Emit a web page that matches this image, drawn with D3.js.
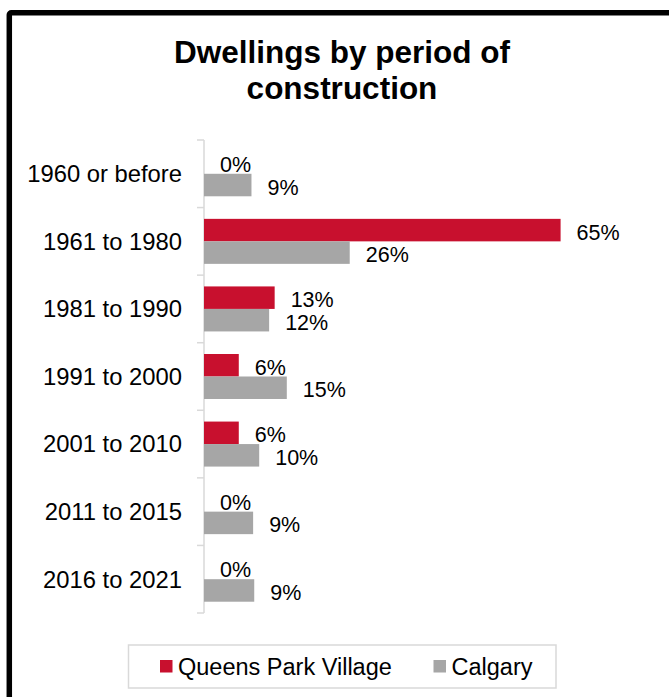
<!DOCTYPE html>
<html>
<head>
<meta charset="utf-8">
<script src="https://cdn.jsdelivr.net/npm/d3@7"></script>
<style>
  html, body { margin: 0; padding: 0; background: #fff; }
  svg { display: block; }
  text { font-family: "Liberation Sans", Arial, sans-serif; fill: #000; }
</style>
</head>
<body>
<svg id="chart" width="669" height="697"></svg>
<script>
const categories = ["1960 or before", "1961 to 1980", "1981 to 1990", "1991 to 2000", "2001 to 2010", "2011 to 2015", "2016 to 2021"];
const seriesNames = ["Queens Park Village", "Calgary"];
const queensPark = [0, 64.6, 12.8, 6.3, 6.3, 0, 0];
const calgary = [8.6, 26.4, 11.8, 15.0, 10.0, 8.9, 9.1];
const seriesColors = ["#C8102E", "#A6A6A6"];
const titleLines = ["Dwellings by period of", "construction"];

const svg = d3.select("#chart");

// outer frame (extends beyond right/bottom edge)
svg.append("rect")
  .attr("x", 9.3).attr("y", 12.8)
  .attr("width", 720).attr("height", 720)
  .attr("rx", 2)
  .attr("fill", "none").attr("stroke", "#000").attr("stroke-width", 5.5);

// title
svg.append("text")
  .attr("x", 342).attr("y", 63)
  .attr("text-anchor", "middle")
  .style("font-size", "31.5px").style("font-weight", "bold")
  .text(titleLines[0]);
svg.append("text")
  .attr("x", 342).attr("y", 99)
  .attr("text-anchor", "middle")
  .style("font-size", "31.5px").style("font-weight", "bold")
  .text(titleLines[1]);

const x = d3.scaleLinear().domain([0, 70]).range([204, 204 + 70 * 5.52]);
const y = d3.scaleBand().domain(categories).range([140, 613])
  .paddingInner(0.334).paddingOuter(0.167);
const ySub = d3.scaleBand().domain(seriesNames).range([0, y.bandwidth()]);

const data = categories.map((c, i) => ({cat: c, values: [queensPark[i], calgary[i]]}));

// axis line + ticks at band boundaries
const axisColor = "#D9D9D9";
svg.append("line")
  .attr("x1", x(0)).attr("x2", x(0))
  .attr("y1", y.range()[0]).attr("y2", y.range()[1])
  .attr("stroke", axisColor).attr("stroke-width", 1.5);
const step = y.step();
const boundaries = d3.range(categories.length + 1).map(i => y.range()[0] + i * step);
svg.selectAll(".tick").data(boundaries).enter().append("line")
  .attr("x1", x(0) - 7).attr("x2", x(0))
  .attr("y1", d => d).attr("y2", d => d)
  .attr("stroke", axisColor).attr("stroke-width", 1.5);

// category labels
svg.selectAll(".cat").data(categories).enter().append("text")
  .attr("x", 182)
  .attr("y", d => y(d) + y.bandwidth() / 2 + 8.4)
  .attr("text-anchor", "end")
  .style("font-size", "23.8px")
  .text(d => d);

const fmt = v => Math.round(v) + "%";

const groups = svg.selectAll(".grp").data(data).enter().append("g")
  .attr("transform", d => `translate(0,${y(d.cat)})`);

groups.selectAll("rect").data(d => d.values.map((v, j) => ({v, s: seriesNames[j], j})))
  .enter().append("rect")
  .attr("x", x(0))
  .attr("y", d => ySub(d.s))
  .attr("width", d => x(d.v) - x(0))
  .attr("height", ySub.bandwidth())
  .attr("fill", d => seriesColors[d.j]);

groups.selectAll(".lbl").data(d => d.values.map((v, j) => ({v, s: seriesNames[j], j})))
  .enter().append("text")
  .attr("x", d => x(d.v) + 16)
  .attr("y", d => ySub(d.s) + ySub.bandwidth() / 2 + 9.5)
  .style("font-size", "21.5px")
  .text(d => fmt(d.v));

// legend
const legend = svg.append("g");
legend.append("rect")
  .attr("x", 128.5).attr("y", 645).attr("width", 427.5).attr("height", 43)
  .attr("fill", "#fff").attr("stroke", axisColor).attr("stroke-width", 1.5);
const legendItems = [{x: 160, name: seriesNames[0], color: seriesColors[0]},
                     {x: 433.5, name: seriesNames[1], color: seriesColors[1]}];
legendItems.forEach(it => {
  legend.append("rect").attr("x", it.x).attr("y", 660).attr("width", 12.5).attr("height", 12.5)
    .attr("fill", it.color);
  legend.append("text").attr("x", it.x + 18).attr("y", 675)
    .style("font-size", "23.5px").text(it.name);
});
</script>
</body>
</html>
